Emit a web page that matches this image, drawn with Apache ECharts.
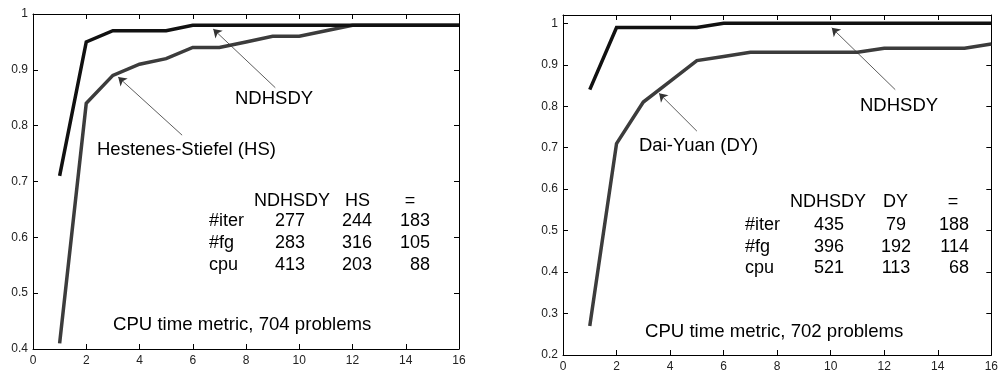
<!DOCTYPE html>
<html>
<head>
<meta charset="utf-8">
<script src="https://cdn.jsdelivr.net/npm/echarts@6/dist/echarts.min.js"></script>
<style>
html,body{margin:0;padding:0;background:#fff;}
#c{width:1001px;height:373px;}
</style>
</head>
<body>
<div id="c"></div>
<script>
// ---- data ----
const xValues = [1,2,3,4,5,6,7,8,9,10,11,12,13,14,15,16];
const ndhsdyLeft = [0.71,0.95,0.97,0.97,0.97,0.98,0.98,0.98,0.98,0.98,0.98,0.98,0.98,0.98,0.98,0.98];
const hsValues   = [0.41,0.84,0.89,0.91,0.92,0.94,0.94,0.95,0.96,0.96,0.97,0.98,0.98,0.98,0.98,0.98];
const ndhsdyRight = [0.84,0.99,0.99,0.99,0.99,1.00,1.00,1.00,1.00,1.00,1.00,1.00,1.00,1.00,1.00,1.00];
const dyValues    = [0.27,0.71,0.81,0.86,0.91,0.92,0.93,0.93,0.93,0.93,0.93,0.94,0.94,0.94,0.94,0.95];

const leftHeader = ['NDHSDY','HS','='];
const rightHeader = ['NDHSDY','DY','='];
const rowLabels = ['#iter','#fg','cpu'];
const leftTable = [[277,244,183],[283,316,105],[413,203,88]];
const rightTable = [[435,79,188],[396,192,114],[521,113,68]];

const leftCaption = 'CPU time metric, 704 problems';
const rightCaption = 'CPU time metric, 702 problems';
const leftLabels = ['NDHSDY','Hestenes-Stiefel (HS)'];
const rightLabels = ['NDHSDY','Dai-Yuan (DY)'];
// arrow annotations in data coordinates: [from, to]
const leftArrows = [[[9.1,0.868],[6.77,0.973]],[[5.6,0.783],[3.2,0.887]]];
const rightArrows = [[[12.41,0.84],[10.04,0.989]],[[5.0,0.74],[3.59,0.831]]];

// ---- chart ----
const FONT = '"Liberation Sans", Arial, Helvetica, sans-serif';
const pairs = (xs, ys) => xs.map((x,i)=>[x, ys[i]]);
const fmtY = v => { const r = Math.round(v*10)/10; return Math.abs(r - v) > 1e-6 ? '' : String(r); };

function xAxisBottom(g){
  return {type:'value', gridIndex:g, min:0, max:16, interval:2, position:'bottom',
    axisLine:{onZero:false, lineStyle:{color:'#000', width:1}},
    axisTick:{inside:true, length:5, lineStyle:{color:'#000'}},
    axisLabel:{color:'#222', fontSize:12, fontFamily:FONT, margin:6},
    splitLine:{show:false}};
}
function xAxisTop(g){
  return {type:'value', gridIndex:g, min:0, max:16, interval:2, position:'top',
    axisLine:{onZero:false, lineStyle:{color:'#000', width:1}},
    axisTick:{inside:true, length:5, lineStyle:{color:'#000'}},
    axisLabel:{show:false}, splitLine:{show:false}};
}
function yAxisLeft(g, min, max){
  return {type:'value', gridIndex:g, min:min, max:max, interval:0.1, position:'left',
    axisLine:{show:true, onZero:false, lineStyle:{color:'#000', width:1}},
    axisTick:{show:true, inside:true, length:5, lineStyle:{color:'#000'}},
    axisLabel:{color:'#222', fontSize:12, fontFamily:FONT, margin:5, formatter:fmtY},
    splitLine:{show:false}};
}
function yAxisRight(g, min, max){
  return {type:'value', gridIndex:g, min:min, max:max, interval:0.1, position:'right',
    axisLine:{show:true, onZero:false, lineStyle:{color:'#000', width:1}},
    axisTick:{show:true, inside:true, length:5, lineStyle:{color:'#000'}},
    axisLabel:{show:false}, splitLine:{show:false}};
}
function arrowMark(list){
  return {silent:true, animation:false, symbol:['none','arrow'], symbolSize:8,
    label:{show:false}, emphasis:{disabled:true},
    lineStyle:{color:'#333', width:0.8, type:'solid'},
    data:list.map(a=>[{coord:a[0]},{coord:a[1]}])};
}
function lineSeries(name, xi, yi, data, color, marks){
  const s = {name, type:'line', xAxisIndex:xi, yAxisIndex:yi, data, showSymbol:false,
    symbol:'none', animation:false, lineStyle:{color, width:3.5, cap:'butt', join:'miter'},
    itemStyle:{color}};
  if (marks) s.markLine = arrowMark(marks);
  return s;
}

const txt = (text, x, y, align, size) => ({type:'text', x:0, y:0, silent:true,
  style:{text, x, y, align:align||'left', verticalAlign:'middle', fill:'#000',
  fontSize:size||18, fontFamily:FONT}});

const graphics = [];
graphics.push(txt(leftLabels[0], 235, 99, 'left', 18.5));
graphics.push(txt(leftLabels[1], 97, 150, 'left', 18.5));
graphics.push(txt(rightLabels[0], 860, 106, 'left', 18.5));
graphics.push(txt(rightLabels[1], 639, 146, 'left', 18.5));
graphics.push(txt(leftCaption, 113, 325, 'left', 18.6));
graphics.push(txt(rightCaption, 645, 332, 'left', 18.6));
// left table
graphics.push(txt(leftHeader[0], 254, 201));
graphics.push(txt(leftHeader[1], 345, 201));
graphics.push(txt(leftHeader[2], 410, 201, 'center'));
const lRowY = [221, 243, 265];
rowLabels.forEach((lab,i)=>{
  graphics.push(txt(lab, 209, lRowY[i]));
  graphics.push(txt(String(leftTable[i][0]), 290, lRowY[i], 'center'));
  graphics.push(txt(String(leftTable[i][1]), 357, lRowY[i], 'center'));
  graphics.push(txt(String(leftTable[i][2]), 430, lRowY[i], 'right'));
});
// right table
graphics.push(txt(rightHeader[0], 790, 202));
graphics.push(txt(rightHeader[1], 883, 202));
graphics.push(txt(rightHeader[2], 953, 202, 'center'));
const rRowY = [225, 247, 268];
rowLabels.forEach((lab,i)=>{
  graphics.push(txt(lab, 745, rRowY[i]));
  graphics.push(txt(String(rightTable[i][0]), 829, rRowY[i], 'center'));
  graphics.push(txt(String(rightTable[i][1]), 896, rRowY[i], 'center'));
  graphics.push(txt(String(rightTable[i][2]), 969, rRowY[i], 'right'));
});

const option = {
  backgroundColor:'#fff',
  animation:false,
  grid:[
    {left:33, top:14, width:426, height:335},
    {left:563, top:15, width:432, height:342}
  ],
  xAxis:[xAxisBottom(0), xAxisTop(0), xAxisBottom(1), xAxisTop(1)],
  yAxis:[yAxisLeft(0,0.4,1), yAxisRight(0,0.4,1), yAxisLeft(1,0.2,1.02), yAxisRight(1,0.2,1.02)],
  series:[
    lineSeries('HS', 0, 0, pairs(xValues, hsValues), '#3c3c3c', leftArrows),
    lineSeries('NDHSDY', 0, 0, pairs(xValues, ndhsdyLeft), '#111111'),
    lineSeries('DY', 2, 2, pairs(xValues, dyValues), '#3c3c3c', rightArrows),
    lineSeries('NDHSDY', 2, 2, pairs(xValues, ndhsdyRight), '#111111')
  ],
  graphic: graphics
};

const chart = echarts.init(document.getElementById('c'), null, {renderer:'canvas'});
chart.setOption(option);
</script>
</body>
</html>
